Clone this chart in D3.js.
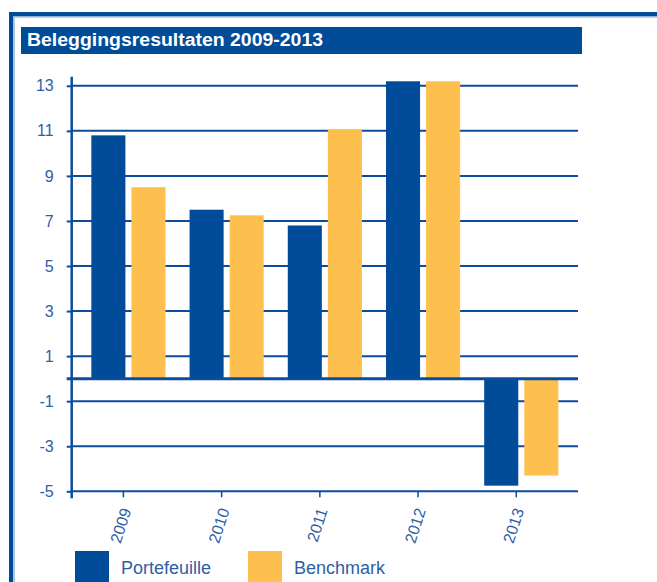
<!DOCTYPE html>
<html>
<head>
<meta charset="utf-8">
<script src="https://cdn.jsdelivr.net/npm/d3@7"></script>
<style>
  body { margin: 0; background: #fff; }
  svg { display: block; font-family: "Liberation Sans", Arial, sans-serif; }
</style>
</head>
<body>
<div id="chart"></div>
<script>
// chart values
const years = ["2009", "2010", "2011", "2012", "2013"];
const seriesNames = ["Portefeuille", "Benchmark"];
const portefeuille = [10.8, 7.5, 6.8, 13.2, -4.75];
const benchmark = [8.5, 7.25, 11.05, 13.2, -4.3];
const yTicks = [-5, -3, -1, 1, 3, 5, 7, 9, 11, 13];

const W = 657, H = 582;
const darkBlue = "#004c99";
const orange = "#fdc04f";
const lineBlue = "#0b4c9c";
const textBlue = "#2f5ea7";

const svg = d3.select("#chart").append("svg")
  .attr("width", W)
  .attr("height", H);

// ----- frame + title bar -----
svg.append("rect").attr("x", 9).attr("y", 12).attr("width", W - 9).attr("height", 4.5).attr("fill", darkBlue);
svg.append("rect").attr("x", 9).attr("y", 12).attr("width", 4.3).attr("height", H - 12).attr("fill", darkBlue);
svg.append("rect").attr("x", 13.3).attr("y", 16.5).attr("width", 1.6).attr("height", H).attr("fill", "#a9c2e2");
svg.append("rect").attr("x", 13.3).attr("y", 16.5).attr("width", W).attr("height", 1.2).attr("fill", "#a9c2e2");

svg.append("rect")
  .attr("x", 21).attr("y", 27)
  .attr("width", 582 - 21).attr("height", 27)
  .attr("fill", darkBlue);

svg.append("text")
  .attr("x", 27).attr("y", 46)
  .attr("fill", "#fff")
  .attr("font-size", 18)
  .attr("font-weight", "bold")
  .attr("textLength", 296)
  .attr("lengthAdjust", "spacingAndGlyphs")
  .text("Beleggingsresultaten 2009-2013");

// ----- scales -----
const axisX = 71.7, plotRight = 578;

const y = d3.scaleLinear()
  .domain([-5, 13])
  .range([491.3, 85.8]);

const x0 = d3.scaleBand()
  .domain(years)
  .range([axisX, plotRight])
  .paddingInner(0.245)
  .paddingOuter(0.2);

const x1 = d3.scaleBand()
  .domain(seriesNames)
  .range([0, x0.bandwidth()])
  .paddingInner(0.15);

const color = d3.scaleOrdinal()
  .domain(seriesNames)
  .range([darkBlue, orange]);

const rows = years.map((yr, i) => ({
  year: yr,
  values: [
    { name: "Portefeuille", value: portefeuille[i] },
    { name: "Benchmark", value: benchmark[i] }
  ]
}));

// ----- gridlines -----
svg.append("g").selectAll("line")
  .data(yTicks)
  .join("line")
  .attr("x1", axisX)
  .attr("x2", plotRight)
  .attr("y1", d => y(d))
  .attr("y2", d => y(d))
  .attr("stroke", lineBlue)
  .attr("stroke-width", 2);

// ----- bars -----
svg.append("g").selectAll("g")
  .data(rows)
  .join("g")
  .attr("transform", d => `translate(${x0(d.year)},0)`)
  .selectAll("rect")
  .data(d => d.values)
  .join("rect")
  .attr("x", d => x1(d.name))
  .attr("width", x1.bandwidth())
  .attr("y", d => y(Math.max(0, d.value)))
  .attr("height", d => Math.abs(y(d.value) - y(0)))
  .attr("fill", d => color(d.name));

// zero line
svg.append("line")
  .attr("x1", axisX - 5).attr("x2", plotRight)
  .attr("y1", y(0)).attr("y2", y(0))
  .attr("stroke", lineBlue)
  .attr("stroke-width", 3);

// ----- y axis -----
const yAxis = svg.append("g")
  .attr("transform", `translate(${axisX},0)`)
  .call(d3.axisLeft(y).tickValues(yTicks).tickSize(5).tickPadding(13).tickFormat(d => String(d)));
yAxis.select(".domain").remove();
yAxis.selectAll(".tick line").attr("stroke", lineBlue).attr("stroke-width", 2);
yAxis.selectAll(".tick text")
  .attr("fill", textBlue)
  .attr("font-size", 16)
  .attr("font-family", "Liberation Sans, Arial, sans-serif");

svg.append("line")
  .attr("x1", axisX).attr("x2", axisX)
  .attr("y1", y(13.4)).attr("y2", y(-5) + 7)
  .attr("stroke", lineBlue)
  .attr("stroke-width", 2.5);

// ----- x axis (ticks sit just left of the group centre) -----
const xAxis = svg.append("g")
  .attr("transform", `translate(-5,${y(-5)})`)
  .call(d3.axisBottom(x0).tickSize(6).tickPadding(0));
xAxis.select(".domain").remove();
xAxis.selectAll(".tick line").attr("stroke", lineBlue).attr("stroke-width", 1.5);
xAxis.selectAll(".tick text")
  .attr("fill", textBlue)
  .attr("font-size", 16)
  .attr("font-family", "Liberation Sans, Arial, sans-serif")
  .attr("text-anchor", "end")
  .attr("dy", null)
  .attr("y", null)
  .attr("transform", "translate(8,19) rotate(-72)");

// ----- legend -----
const legend = svg.append("g").selectAll("g")
  .data(seriesNames)
  .join("g")
  .attr("transform", (d, i) => `translate(${75 + i * 173},551)`);

legend.append("rect")
  .attr("width", 34)
  .attr("height", 34)
  .attr("fill", d => color(d));

legend.append("text")
  .attr("x", 46)
  .attr("y", 23)
  .attr("fill", textBlue)
  .attr("font-size", 18)
  .text(d => d);
</script>
</body>
</html>
